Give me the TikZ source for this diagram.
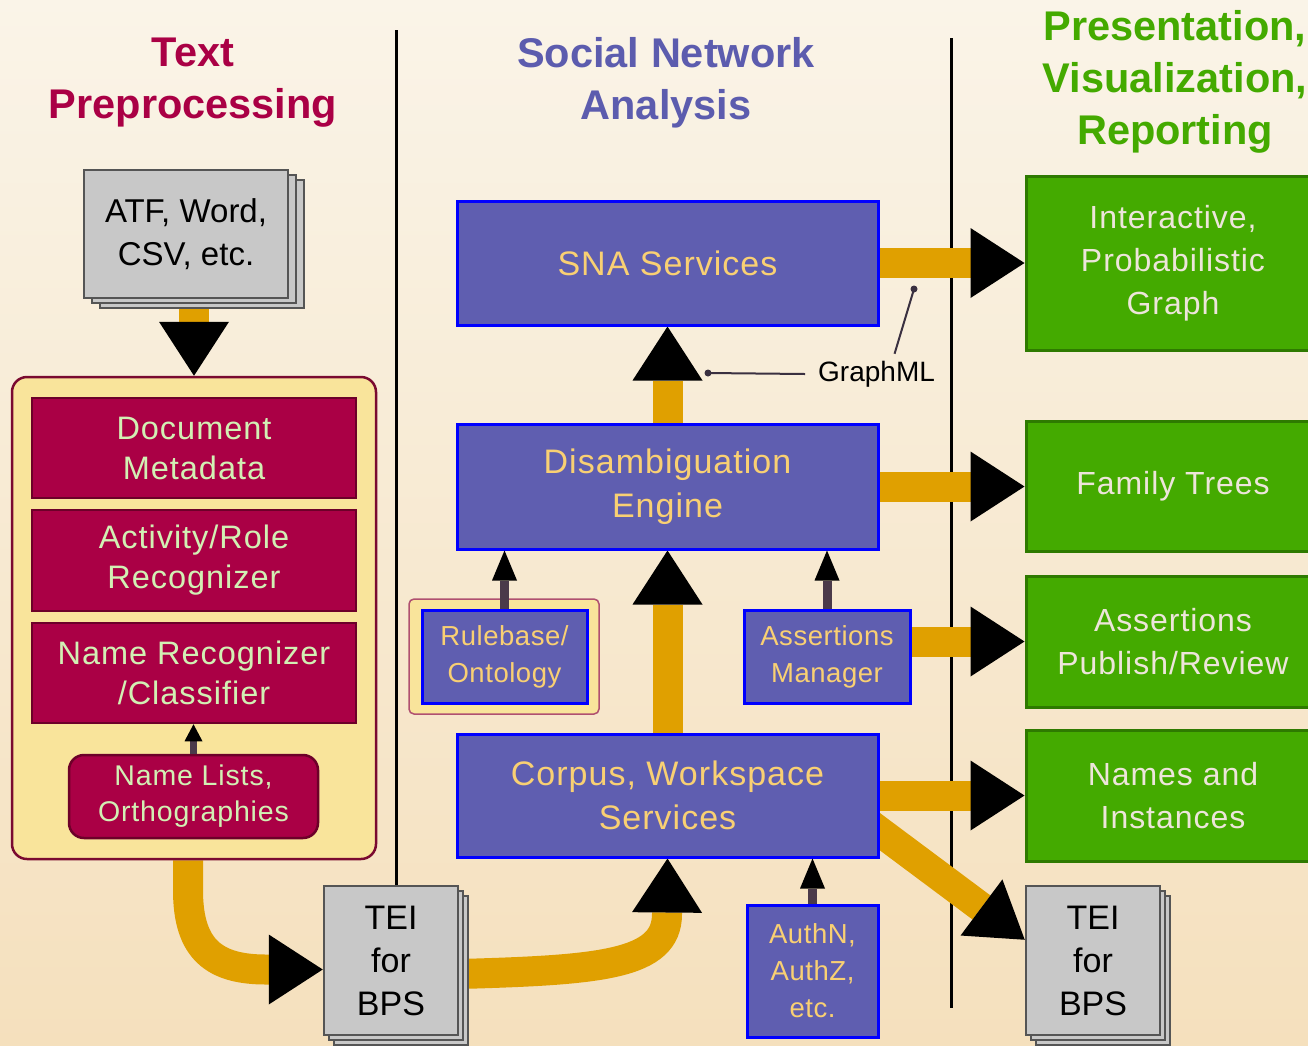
\documentclass[tikz,border=0pt]{standalone}
\usepackage{fontspec}
\setmainfont{Liberation Sans}
\newfontfamily\spacedfont[LetterSpace=3]{Liberation Sans}
\newfontfamily\lightspaced[LetterSpace=2]{Liberation Sans}
\usetikzlibrary{arrows.meta,shadows}
\definecolor{crim}{HTML}{AA0045}
\definecolor{crimline}{HTML}{6D0029}
\definecolor{crimtext}{HTML}{D2F0B4}
\definecolor{prefill}{HTML}{F9E49B}
\definecolor{preline}{HTML}{7A0A30}
\definecolor{snafill}{HTML}{5F5EB0}
\definecolor{snatext}{HTML}{F9D073}
\definecolor{snatitle}{HTML}{5C5CAE}
\definecolor{grn}{HTML}{44AA00}
\definecolor{grnline}{HTML}{2E7A00}
\definecolor{grntext}{HTML}{EDE5DA}
\definecolor{flowcol}{HTML}{E0A000}
\definecolor{docgray}{HTML}{C8C8C8}
\definecolor{docline}{HTML}{555555}
\definecolor{stemcol}{HTML}{4B3A4A}
\definecolor{bgtop}{HTML}{FAF4E8}
\definecolor{bgbot}{HTML}{F5E0BD}
\definecolor{callcol}{HTML}{3A3040}
\definecolor{rbline}{HTML}{B05070}
\pgfdeclarelayer{back}
\pgfdeclarelayer{flows}
\pgfsetlayers{back,flows,main}
\begin{document}
\begin{tikzpicture}[x=1pt,y=-1pt,
  box/.style={draw, align=center, inner sep=0pt},
  crimbox/.style={box, draw=crimline, line width=2.5pt, fill=crim, text=crimtext, font=\spacedfont\fontsize{32.5}{40}\selectfont},
  snabox/.style={box, draw=blue, line width=3pt, fill=snafill, text=snatext, font=\spacedfont\fontsize{34}{44}\selectfont},
  snasmall/.style={snabox, font=\lightspaced\fontsize{27.5}{37}\selectfont},
  grnbox/.style={box, draw=grnline, line width=3pt, fill=grn, text=grntext, font=\spacedfont\fontsize{32}{43}\selectfont},
  docbox/.style={box, draw=docline, line width=2.5pt, fill=docgray, text=black, font=\fontsize{34}{43}\selectfont},
  titletext/.style={align=center, inner sep=0pt, font=\bfseries\fontsize{41.5}{52}\selectfont},
  flow/.style={draw=flowcol, line width=30pt, -{Triangle[length=54pt,width=70pt,line width=0pt,color=black,fill=black]}},
  feed/.style={draw=stemcol, line width=9pt, -{Triangle[length=30pt,width=25pt,line width=0pt,color=black,fill=black]}},
  feedsmall/.style={draw=stemcol, line width=7pt, -{Triangle[length=17pt,width=18pt,line width=0pt,color=black,fill=black]}},
  callout/.style={draw=callcol, line width=2pt},
]
\useasboundingbox (0,0) rectangle (1308,1045);
\begin{pgfonlayer}{back}
  \shade[top color=bgtop, bottom color=bgbot] (0,0) rectangle (1308,1045);
  \draw[line width=3pt] (396,30) -- (396,886);
  \draw[line width=3pt] (951,38) -- (951,1008);
\end{pgfonlayer}

% titles
\node[titletext, text=crim] (t1) at (193,82.5) {Text\\Preprocessing};
\node[titletext, text=snatitle] (t2) at (666,82.5) {Social Network\\Analysis};
\node[titletext, text=grn] (t3) at (1175,81.5) {Presentation,\\Visualization,\\Reporting};

% text preprocessing column
\node[docbox, font=\fontsize{33}{43}\selectfont, double copy shadow={shadow xshift=8pt,shadow yshift=-5pt}, minimum width=204pt, minimum height=128pt] (atf) at (186,234) {ATF, Word,\\CSV, etc.};
\node[draw=preline, line width=2.5pt, fill=prefill, rounded corners=15pt, minimum width=364pt, minimum height=482pt] (pre) at (194,618) {};
\node[crimbox, minimum width=324pt, minimum height=100pt] (dm) at (194,448) {Document\\Metadata};
\node[crimbox, minimum width=324pt, minimum height=101pt] (ar) at (194,560.5) {Activity/Role\\Recognizer};
\node[crimbox, minimum width=324pt, minimum height=100pt] (nr) at (194,673) {Name Recognizer\\/Classifier};
\node[crimbox, rounded corners=15pt, font=\spacedfont\fontsize{28.5}{36}\selectfont, minimum width=249pt, minimum height=83pt] (nl) at (193.5,796.5) {Name Lists,\\Orthographies};

% documents
\node[docbox, double copy shadow={shadow xshift=5pt,shadow yshift=-5pt}, minimum width=134pt, minimum height=149pt] (teiA) at (391,960.5) {TEI\\for\\BPS};
\node[docbox, double copy shadow={shadow xshift=5pt,shadow yshift=-5pt}, minimum width=134pt, minimum height=149pt] (teiB) at (1093,960.5) {TEI\\for\\BPS};

% SNA column
\node[snabox, minimum width=421pt, minimum height=124pt] (sna) at (667.5,263) {SNA Services};
\node[snabox, minimum width=421pt, minimum height=125pt] (dis) at (667.5,486.5) {Disambiguation\\Engine};
\node[snabox, minimum width=421pt, minimum height=123pt] (corpus) at (667.5,795.5) {Corpus, Workspace\\Services};
\node[draw=rbline, line width=1.5pt, fill=prefill, rounded corners=5pt, minimum width=190pt, minimum height=115pt] (rbwrap) at (504,656.5) {};
\node[snasmall, minimum width=165pt, minimum height=93pt] (rb) at (504.5,656.5) {Rulebase/\\Ontology};
\node[snasmall, minimum width=166pt, minimum height=93pt] (am) at (827,656.5) {Assertions\\Manager};
\node[snasmall, minimum width=131pt, minimum height=132pt] (auth) at (812.5,971) {AuthN,\\AuthZ,\\etc.};

% presentation column
\node[grnbox, minimum width=294pt, minimum height=174pt] (int) at (1173,263) {Interactive,\\Probabilistic\\Graph};
\node[grnbox, minimum width=294pt, minimum height=130pt] (ft) at (1173,486.5) {Family Trees};
\node[grnbox, minimum width=294pt, minimum height=131pt] (ap) at (1173,641.5) {Assertions\\Publish/Review};
\node[grnbox, minimum width=294pt, minimum height=131pt] (ni) at (1173,795.5) {Names and\\Instances};

% GraphML callout
\coordinate (gdotA) at (708,373);
\coordinate (gdotB) at (914,289);
\node[font=\fontsize{28}{34}\selectfont, anchor=west, inner sep=0pt, text=black] (gml) at (818,374) {GraphML};
\draw[callout] ([xshift=-13pt]gml.west) -- (gdotA);
\fill[callcol] (gdotA) circle (3.5pt);
\draw[callout] ([shift={(18pt,7pt)}]gml.north) -- (gdotB);
\fill[callcol] (gdotB) circle (3.5pt);

% feeder arrows
\draw[feedsmall] (nl.north) -- (nl.north |- nr.south);
\draw[feed] (rb.north) -- (rb.north |- dis.south);
\draw[feed] (am.north) -- (am.north |- dis.south);
\draw[feed] (auth.north) -- (auth.north |- corpus.south);

% main flows
\begin{pgfonlayer}{flows}
  \draw[flow] (atf.south -| pre.north) -- (pre.north);
  \draw[flow] ([xshift=-6pt]pre.south) -- ++(0,30) .. controls (188,950) and (215,969.5) .. (266,969.5) -- ([yshift=-9pt]teiA.west);
  \draw[flow] ([yshift=-13.5pt]teiA.east) .. controls (600,970) and (667,965) .. (667,914) -- (corpus.south);
  \draw[flow] (corpus.north) -- (dis.south);
  \draw[flow] (dis.north) -- (sna.south);
  \draw[flow] (sna.east) -- (int.west);
  \draw[flow] (dis.east) -- (ft.west);
  \draw[flow] (am.east |- ap.west) -- (ap.west);
  \draw[flow] (corpus.east) -- (ni.west);
  \draw[flow] ([xshift=-28pt,yshift=-15pt]corpus.east) -- ([yshift=-55pt]teiB.north west);
\end{pgfonlayer}
\end{tikzpicture}
\end{document}
